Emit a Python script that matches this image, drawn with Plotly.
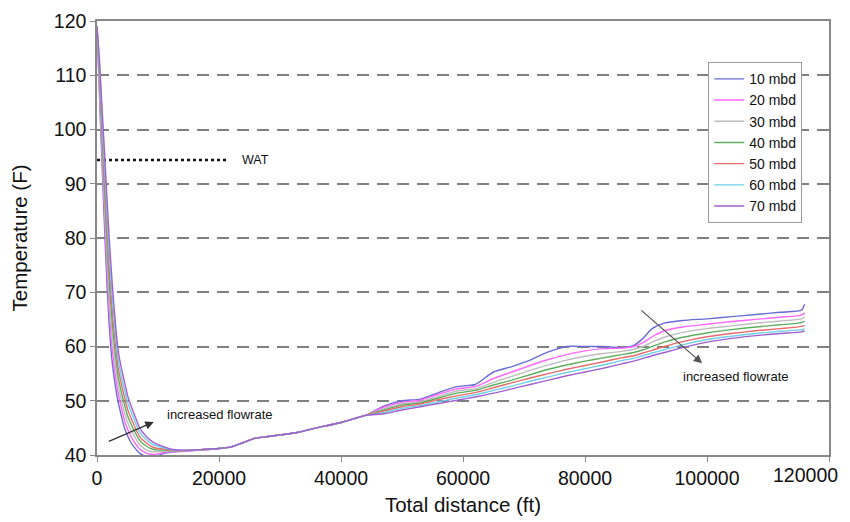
import plotly.graph_objects as go

# ---- data ----
series_names = ["10 mbd", "20 mbd", "30 mbd", "40 mbd", "50 mbd", "60 mbd", "70 mbd"]
series_colors = ["#6b6bd6", "#ff66ff", "#bdbdbd", "#5fae5f", "#e86a6a", "#6fd0e8", "#a05fd0"]

x_drop = [0, 400, 800, 1200, 1600, 2000, 2500, 3000, 3500, 4000, 4500, 5000, 5500, 6000,
          7000, 8000, 9000, 10000, 11000, 12000, 14000, 17000, 20000]
t_drop_10 = [119, 106.5, 94.5, 83.0, 72.5, 64.0, 57.0, 52.8, 49.6, 47.2, 45.0, 43.6, 42.4, 41.6,
             40.3, 39.8, 39.6, 39.9, 40.3, 40.5, 40.7, 40.9, 41.2]
t_drop_20 = [119, 107.6, 96.2, 85.3, 75.1, 66.7, 59.4, 54.8, 51.2, 48.7, 46.4, 44.8, 43.6, 42.6,
             41.1, 40.4, 40.1, 40.2, 40.5, 40.6, 40.7, 40.9, 41.2]
t_drop_30 = [119, 108.7, 97.8, 87.5, 77.7, 69.3, 61.8, 56.7, 52.7, 50.1, 47.8, 46.1, 44.7, 43.7,
             41.9, 41.0, 40.6, 40.6, 40.7, 40.7, 40.8, 40.9, 41.2]
t_drop_40 = [119, 109.8, 99.5, 89.8, 80.3, 72.0, 64.3, 58.7, 54.3, 51.6, 49.3, 47.3, 45.9, 44.7,
             42.7, 41.7, 41.1, 40.9, 40.9, 40.8, 40.8, 41.0, 41.2]
t_drop_50 = [119, 110.8, 101.2, 92.0, 82.8, 74.7, 66.7, 60.6, 55.9, 53.1, 50.7, 48.5, 47.0, 45.7,
             43.4, 42.3, 41.5, 41.2, 41.1, 40.9, 40.8, 41.0, 41.2]
t_drop_60 = [119, 111.9, 102.8, 94.3, 85.4, 77.3, 69.1, 62.6, 57.4, 54.5, 52.1, 49.8, 48.2, 46.8,
             44.2, 42.9, 42.0, 41.6, 41.3, 41.0, 40.9, 41.0, 41.2]
t_drop_70 = [119, 113.0, 104.5, 96.5, 88.0, 80.0, 71.5, 64.5, 59.0, 56.0, 53.5, 51.0, 49.3, 47.8,
             45.0, 43.5, 42.5, 41.9, 41.5, 41.1, 40.9, 41.0, 41.2]

x_mid = [22000, 24000, 26000, 28000, 30000, 33000, 36000, 40000, 44000]
t_mid = [41.5, 42.3, 43.1, 43.4, 43.7, 44.2, 45.0, 46.0, 47.3]

x_rise = [47000, 50000, 53000, 56000, 59000, 62000, 65000, 68000, 71000, 74000, 77000, 80000,
          83000, 86000, 88000, 89500, 91000, 93000, 96000, 100000, 104000, 108000, 112000,
          115500, 116000]
t_rise_10 = [49.0, 50.0, 50.3, 51.5, 52.6, 53.0, 55.3, 56.3, 57.5, 59.0, 60.0, 60.0,
             60.0, 59.8, 60.2, 61.5, 63.3, 64.3, 64.8, 65.1, 65.5, 65.9, 66.3, 66.7, 67.8]
t_rise_20 = [48.8, 49.7, 50.1, 51.2, 52.2, 52.6, 54.1, 55.3, 56.5, 57.6, 58.5, 59.2,
             59.6, 59.7, 60.0, 60.7, 61.8, 62.9, 63.6, 64.1, 64.6, 65.0, 65.4, 65.8, 66.2]
t_rise_30 = [48.5, 49.4, 49.8, 50.8, 51.8, 52.2, 53.4, 54.5, 55.6, 56.6, 57.5, 58.2,
             58.7, 59.1, 59.5, 60.0, 60.8, 61.7, 62.6, 63.3, 63.8, 64.3, 64.7, 65.1, 65.4]
t_rise_40 = [48.3, 49.2, 49.6, 50.5, 51.4, 51.9, 52.9, 53.8, 54.8, 55.8, 56.6, 57.3,
             57.9, 58.5, 58.9, 59.4, 60.0, 60.8, 61.7, 62.5, 63.1, 63.6, 64.0, 64.4, 64.7]
t_rise_50 = [48.1, 48.9, 49.4, 50.2, 50.9, 51.5, 52.4, 53.3, 54.2, 55.0, 55.8, 56.5,
             57.2, 57.9, 58.3, 58.8, 59.3, 60.0, 60.9, 61.8, 62.4, 62.9, 63.3, 63.7, 63.9]
t_rise_60 = [47.8, 48.6, 49.1, 49.8, 50.5, 51.1, 51.9, 52.7, 53.6, 54.4, 55.2, 55.9,
             56.6, 57.4, 57.8, 58.3, 58.8, 59.4, 60.3, 61.3, 61.9, 62.4, 62.8, 63.1, 63.3]
t_rise_70 = [47.6, 48.3, 48.9, 49.5, 50.1, 50.7, 51.4, 52.2, 53.0, 53.8, 54.6, 55.3,
             56.0, 56.8, 57.3, 57.8, 58.3, 58.9, 59.8, 60.8, 61.5, 62.0, 62.4, 62.7, 62.9]

t_drop = [t_drop_10, t_drop_20, t_drop_30, t_drop_40, t_drop_50, t_drop_60, t_drop_70]
t_rise = [t_rise_10, t_rise_20, t_rise_30, t_rise_40, t_rise_50, t_rise_60, t_rise_70]

wat_x = [0, 21500]
wat_t = [94.4, 94.4]

x_ticks = [0, 20000, 40000, 60000, 80000, 100000, 120000]
x_tick_labels = ["0", "20000", "40000", "60000", "80000", "100000", ""]
x_last_label = "120000"
y_ticks = [40, 50, 60, 70, 80, 90, 100, 110, 120]

TICK_FONT = 19.5
TITLE_FONT = 20.5

# ---- figure ----
fig = go.Figure()

fig.add_trace(go.Scatter(x=wat_x, y=wat_t, mode="lines", showlegend=False,
                         line=dict(color="#111111", width=2.5, dash="dot")))

for name, color, td, tr in zip(series_names, series_colors, t_drop, t_rise):
    fig.add_trace(go.Scatter(
        x=x_drop + x_mid + x_rise,
        y=td + t_mid + tr,
        mode="lines", name=name,
        line=dict(color=color, width=1.4, shape="spline", smoothing=0.6),
    ))

fig.add_annotation(x=23400, y=94.4, text="WAT", showarrow=False, xanchor="left",
                   font=dict(size=12.5, color="#111111"))

fig.add_annotation(x=11100, y=47.4, text="increased flowrate", showarrow=False, xanchor="left",
                   font=dict(size=13, color="#111111"))
fig.add_annotation(x=9300, y=46.1, ax=1700, ay=42.4, xref="x", yref="y", axref="x", ayref="y",
                   text="", showarrow=True, arrowhead=2, arrowsize=1.3, arrowwidth=1.3,
                   arrowcolor="#333333")

fig.add_annotation(x=104800, y=54.4, text="increased flowrate", showarrow=False,
                   font=dict(size=13, color="#111111"))
fig.add_annotation(x=99200, y=56.9, ax=89000, ay=66.9, xref="x", yref="y", axref="x", ayref="y",
                   text="", showarrow=True, arrowhead=2, arrowsize=1.3, arrowwidth=1.3,
                   arrowcolor="#555555")

# last x tick label kept inside the page
fig.add_annotation(x=x_ticks[-1], y=0, xref="x", yref="paper", text=x_last_label,
                   showarrow=False, xanchor="right", yanchor="top", xshift=11, yshift=-7,
                   font=dict(size=TICK_FONT, color="#111111"))

fig.update_layout(
    width=850, height=522,
    margin=dict(l=89, r=29, t=13, b=75),
    paper_bgcolor="white", plot_bgcolor="white",
    font=dict(family="Liberation Sans, Arial, sans-serif", color="#111111"),
    legend=dict(x=0.835, y=0.905, xanchor="left", yanchor="top",
                bgcolor="white", bordercolor="#999999", borderwidth=1,
                font=dict(size=14), tracegroupgap=0, itemwidth=30),
    xaxis=dict(range=[0, 120000], tickvals=x_ticks, ticktext=x_tick_labels,
               showgrid=False, zeroline=False, showline=True, linecolor="#888888", linewidth=1.5,
               mirror=True, ticks="outside", ticklen=5, tickcolor="#888888", automargin=False,
               tickfont=dict(size=TICK_FONT),
               title=dict(text="Total distance (ft)", font=dict(size=TITLE_FONT), standoff=9)),
    yaxis=dict(range=[40, 120], tickvals=y_ticks,
               showgrid=True, gridcolor="#808080", gridwidth=1.8, griddash="12px,8px",
               zeroline=False, showline=True, linecolor="#888888", linewidth=1.5,
               mirror=True, ticks="outside", ticklen=5, tickcolor="#888888", automargin=False,
               tickfont=dict(size=TICK_FONT),
               title=dict(text="Temperature (F)", font=dict(size=TITLE_FONT), standoff=22)),
)

fig.write_html("out.html")
